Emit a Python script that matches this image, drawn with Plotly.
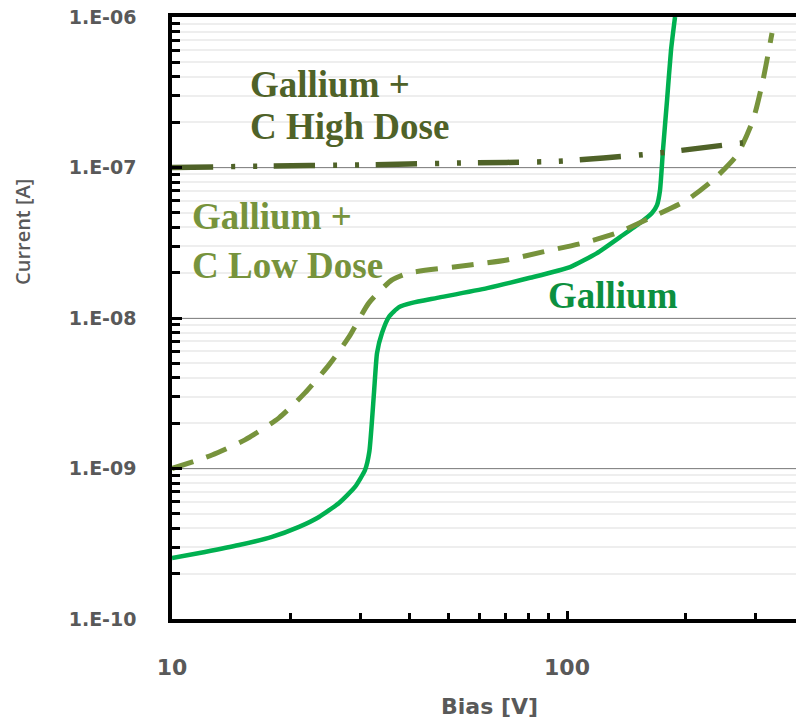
import plotly.graph_objects as go

# ---- data ----
ga_bias = [10, 12.12, 14.78, 17.91, 20.97, 23.56, 26.48, 29.06, 30.81, 31.6, 32.46, 33.04, 34.01,
           35.43, 37.56, 40.52, 46.9, 62.8, 80.6, 101.8, 119.1, 136.2, 153.0, 164.1, 169.0,
           172.0, 175.0, 179.2, 183.4, 187.7]
ga_curr = [2.54e-10, 2.79e-10, 3.10e-10, 3.51e-10, 4.09e-10, 4.76e-10, 5.90e-10, 7.54e-10, 9.77e-10,
           1.3e-9, 3.18e-9, 5.85e-9, 7.94e-9, 1.02e-8, 1.18e-8, 1.26e-8, 1.36e-8, 1.58e-8, 1.85e-8,
           2.18e-8, 2.70e-8, 3.45e-8, 4.28e-8, 4.99e-8, 5.63e-8, 7.08e-8, 1.31e-7, 2.81e-7,
           6.04e-7, 1.0e-6]

low_bias = [10, 12.63, 15.3, 18.66, 21.71, 24.97, 28.06, 31.52, 36.06, 39.8, 56.8, 70.5, 86.9,
            109.8, 133.8, 162.3, 201.3, 234.3, 269.4, 295.8, 313.5, 330.4]
low_curr = [1.0e-9, 1.23e-9, 1.55e-9, 2.17e-9, 3.18e-9, 4.88e-9, 7.48e-9, 1.26e-8, 1.79e-8,
            1.99e-8, 2.25e-8, 2.43e-8, 2.75e-8, 3.15e-8, 3.67e-8, 4.62e-8, 6.08e-8, 8.26e-8,
            1.21e-7, 2.07e-7, 3.81e-7, 7.83e-7]

high_bias = [10, 16.7, 29.9, 52.7, 94.3, 162.3, 279]
high_curr = [1.0e-7, 1.02e-7, 1.04e-7, 1.07e-7, 1.10e-7, 1.23e-7, 1.46e-7]

y_tickvals = [1e-10, 1e-9, 1e-8, 1e-7, 1e-6]
y_ticktext = ["1.E-10", "1.E-09", "1.E-08", "1.E-07", "1.E-06"]

C_GA = "#00B050"
C_GA_TXT = "#0C8F3F"
C_LOW = "#77933C"
C_HIGH = "#4F6228"
C_AX = "#595959"

fig = go.Figure()
fig.add_trace(go.Scatter(x=ga_bias, y=ga_curr, mode="lines",
                         line=dict(color=C_GA, width=4.5, shape="spline", smoothing=0.5),
                         showlegend=False))
fig.add_trace(go.Scatter(x=low_bias, y=low_curr, mode="lines",
                         line=dict(color=C_LOW, width=5, dash="22px,14px",
                                   shape="spline", smoothing=0.6), showlegend=False))
fig.add_trace(go.Scatter(x=high_bias, y=high_curr, mode="lines",
                         line=dict(color=C_HIGH, width=5.5, dash="41px,18px,4px,18px,4px,17px",
                                   shape="spline", smoothing=0.6),
                         showlegend=False))

W, H = 796, 723
L, R, T, B = 172, 0, 17, 104
pw, ph = W - L - R, H - T - B


def px(x):
    return (x - L) / pw


def py(y):
    return (H - B - y) / ph


serif = "Liberation Serif, Times New Roman, serif"
anns = [
    ("Gallium +", 248, 84, C_HIGH),
    ("C High Dose", 248, 126, C_HIGH),
    ("Gallium +", 190, 216, C_LOW),
    ("C Low Dose", 190, 265, C_LOW),
    ("Gallium", 546, 295, C_GA_TXT),
]
for txt, x, y, col in anns:
    fig.add_annotation(text=f"<b>{txt}</b>", xref="paper", yref="paper", x=px(x), y=py(y),
                       xanchor="left", yanchor="middle", showarrow=False,
                       font=dict(family=serif, size=37, color=col))

fig.add_annotation(text="Current [A]", xref="paper", yref="paper", x=px(23), y=py(232),
                   xanchor="center", yanchor="middle", textangle=-90, showarrow=False,
                   font=dict(family="Open Sans", size=20, color=C_AX, weight=600))
fig.add_annotation(text="<b>Bias [V]</b>", xref="paper", yref="paper", x=px(489), y=py(706),
                   xanchor="center", yanchor="middle", showarrow=False,
                   font=dict(family="DejaVu Sans", size=22, color=C_AX))

fig.update_layout(
    width=W, height=H,
    margin=dict(l=L, r=R, t=T, b=B, pad=0),
    paper_bgcolor="white", plot_bgcolor="white",
    xaxis=dict(type="log", range=[1, 1 + (W - L) / 395.0], dtick=1,
               showline=True, linecolor="black", linewidth=3.5, mirror=True,
               ticks="inside", ticklen=8, tickwidth=3, tickcolor="black",
               showgrid=False, zeroline=False,
               tickfont=dict(family="DejaVu Sans", size=22, color=C_AX, weight="bold"),
               ticklabelstandoff=26,
               minor=dict(dtick="D1", ticks="inside", ticklen=6, tickwidth=3,
                          tickcolor="black", showgrid=False)),
    yaxis=dict(type="log", range=[-10, -6], tickmode="array",
               tickvals=y_tickvals, ticktext=y_ticktext,
               showline=True, linecolor="black", linewidth=3.5,
               ticks="inside", ticklen=10, tickwidth=3, tickcolor="black",
               showgrid=True, gridcolor="#888888", gridwidth=1.2, zeroline=False,
               tickfont=dict(family="DejaVu Sans", size=19, color=C_AX, weight="bold"),
               ticklabelstandoff=28,
               minor=dict(tickmode="linear", dtick="D1", ticks="inside", ticklen=8, tickwidth=3,
                          tickcolor="black", showgrid=True, gridcolor="#EEEEEE", gridwidth=2)),
)

fig.write_html("out.html")
